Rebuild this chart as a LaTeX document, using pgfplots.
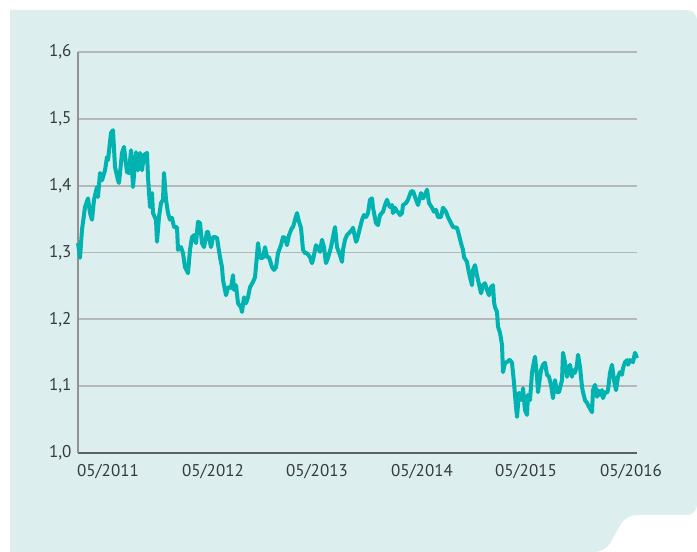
\documentclass[border=0pt]{standalone}
\usepackage{pgfplots}
\pgfplotsset{compat=1.18}
\usepackage{fontspec}
\setmainfont{PT Sans}
\definecolor{bgteal}{HTML}{DCEFEE}
\definecolor{linec}{HTML}{00B3B0}
\definecolor{gridc}{HTML}{B5B8B8}
\definecolor{axisc}{HTML}{5E6061}
\definecolor{txtc}{HTML}{353A3C}
\begin{document}
\begin{tikzpicture}[x=1pt,y=1pt]
\path[use as bounding box, fill=white] (0,0) rectangle (697,552);
\fill[bgteal, rounded corners=10pt] (10,542) -- (697,542) -- (697,37) -- (626,37) -- (605,0) [sharp corners] -- (10,0) -- cycle;
\begin{axis}[
  at={(78pt,99pt)}, anchor=south west,
  scale only axis, width=559pt, height=401pt,
  xmin=78, xmax=637, ymin=1.0, ymax=1.6,
  axis x line*=bottom, axis y line*=left,
  x axis line style={draw=axisc, line width=2.6pt, -},
  y axis line style={draw=gridc!80!black, line width=1.2pt, -},
  xtick={108,213,317,422,526,631},
  xticklabels={05/2011,05/2012,05/2013,05/2014,05/2015,05/2016},
  ytick={1.0,1.1,1.2,1.3,1.4,1.5,1.6},
  ymajorgrids, major grid style={draw=gridc, line width=1.8pt},
  major tick length=0pt,
  /pgf/number format/use comma,
  /pgf/number format/fixed,
  /pgf/number format/precision=1,
  /pgf/number format/fixed zerofill,
  /pgf/number format/assume math mode=true,
  ticklabel style={font=\fontsize{17}{19}\selectfont, text=txtc},
  xticklabel style={yshift=-8pt},
  yticklabel style={xshift=-3pt},
  clip=false,
]
\addplot[linec, line width=4pt, line join=round] coordinates {
(78,1.314) (80,1.292) (82,1.334) (85,1.368) (88,1.381) (90,1.359) (92,1.349) (94,1.379) (97,1.398) (98,1.383)
(100,1.419) (102,1.408) (105,1.423) (107,1.443) (108,1.438) (111,1.479) (113,1.483) (115,1.428) (118,1.408) (119,1.404)
(122,1.449) (124,1.458) (127,1.420) (129,1.419) (131,1.453) (133,1.398) (136,1.450) (138,1.423) (140,1.449) (142,1.423)
(144,1.446) (147,1.449) (148,1.413) (150,1.368) (152,1.389) (153,1.359) (156,1.349) (157,1.316) (159,1.353) (161,1.374)
(163,1.379) (164,1.419) (166,1.379) (168,1.359) (170,1.349) (172,1.352) (174,1.338) (177,1.338) (178,1.304) (181,1.308)
(183,1.299) (185,1.278) (188,1.269) (190,1.304) (192,1.323) (194,1.326) (196,1.314) (198,1.346) (200,1.344) (202,1.314)
(204,1.308) (207,1.331) (208,1.331) (211,1.308) (213,1.323) (215,1.323) (217,1.322) (220,1.293) (222,1.278) (223,1.259)
(226,1.236) (228,1.248) (231,1.247) (233,1.266) (234,1.244) (236,1.251) (238,1.224) (241,1.218) (242,1.211) (244,1.233)
(246,1.224) (248,1.233) (250,1.248) (253,1.256) (255,1.263) (257,1.296) (258,1.314) (260,1.292) (263,1.292) (265,1.308)
(267,1.293) (269,1.293) (272,1.278) (274,1.274) (276,1.278) (278,1.299) (281,1.311) (283,1.323) (285,1.322) (287,1.311)
(289,1.326) (292,1.337) (293,1.338) (295,1.349) (297,1.359) (299,1.346) (301,1.337) (303,1.304) (305,1.299) (307,1.299)
(310,1.293) (312,1.284) (313,1.289) (316,1.311) (318,1.307) (320,1.301) (322,1.319) (324,1.308) (326,1.284) (328,1.292)
(331,1.308) (333,1.323) (335,1.338) (337,1.308) (340,1.296) (342,1.286) (343,1.304) (345,1.319) (347,1.326) (349,1.329)
(352,1.334) (353,1.337) (356,1.316) (357,1.319) (359,1.331) (362,1.349) (364,1.356) (366,1.353) (368,1.359) (370,1.379)
(372,1.381) (373,1.367) (376,1.344) (378,1.341) (380,1.356) (383,1.361) (385,1.371) (387,1.379) (388,1.374) (390,1.368)
(392,1.371) (393,1.359) (395,1.367) (397,1.361) (398,1.361) (400,1.356) (402,1.359) (403,1.371) (406,1.374) (408,1.379)
(411,1.391) (413,1.392) (416,1.379) (418,1.371) (421,1.389) (423,1.381) (425,1.386) (427,1.394) (429,1.374) (432,1.367)
(434,1.361) (436,1.364) (438,1.353) (441,1.353) (443,1.367) (446,1.361) (448,1.353) (451,1.344) (453,1.338) (457,1.337)
(459,1.326) (461,1.314) (463,1.304) (464,1.293) (467,1.286) (468,1.277) (470,1.263) (472,1.251) (473,1.274) (475,1.281)
(477,1.266) (478,1.259) (481,1.239) (483,1.251) (485,1.254) (487,1.244) (489,1.236) (491,1.248) (493,1.251) (494,1.226)
(495,1.218) (497,1.211) (498,1.189) (500,1.180) (502,1.162) (503,1.121) (505,1.135) (507,1.136) (509,1.139) (510,1.139)
(512,1.135) (514,1.105) (516,1.069) (517,1.054) (519,1.090) (522,1.079) (523,1.097) (525,1.064) (527,1.057) (528,1.087)
(530,1.079) (532,1.120) (533,1.129) (535,1.144) (537,1.114) (538,1.091) (541,1.124) (543,1.132) (545,1.135) (547,1.117)
(549,1.114) (551,1.102) (553,1.082) (555,1.109) (557,1.091) (559,1.091) (562,1.109) (563,1.150) (565,1.135) (567,1.114)
(568,1.124) (570,1.132) (572,1.114) (573,1.124) (575,1.120) (577,1.132) (578,1.147) (580,1.129) (582,1.099) (583,1.091)
(585,1.079) (587,1.075) (589,1.069) (592,1.061) (593,1.094) (595,1.102) (597,1.084) (598,1.094) (600,1.087) (602,1.094)
(603,1.082) (605,1.091) (607,1.090) (608,1.094) (610,1.120) (612,1.132) (614,1.109) (616,1.094) (618,1.114) (620,1.121)
(622,1.117) (623,1.127) (625,1.136) (627,1.139) (628,1.132) (630,1.139) (633,1.136) (635,1.150) (637,1.142)
};
\end{axis}
\end{tikzpicture}
\end{document}
